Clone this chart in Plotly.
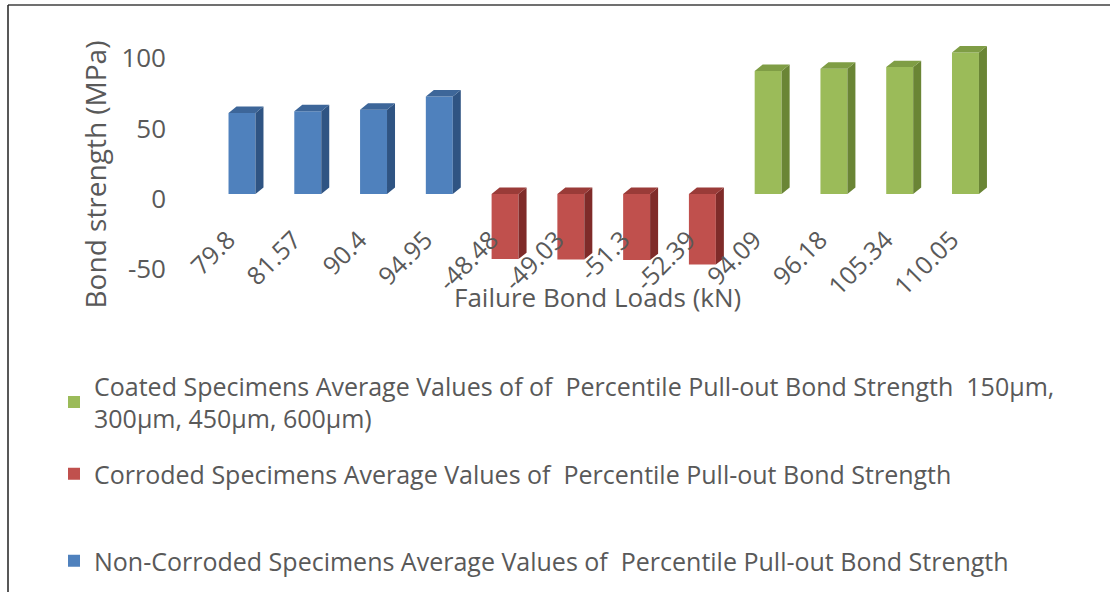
import plotly.graph_objects as go

# Failure bond loads (kN) used as category labels
non_corroded_loads = ["79.8", "81.57", "90.4", "94.95"]
corroded_loads = ["-48.48", "-49.03", "-51.3", "-52.39"]
coated_loads = ["94.09", "96.18", "105.34", "110.05"]

# Bond strength (MPa) per specimen group
non_corroded_strength = [57.4, 58.6, 59.8, 69.2]
corroded_strength = [-46.3, -46.5, -47.0, -50.2]
coated_strength = [87.3, 88.8, 90.0, 100.3]

# Value-axis ticks
y_ticks = [-50, 0, 50, 100]
y_tick_text = ["-50", "0", "50", "100"]

series_names = [
    "Non-Corroded Specimens Average Values of  Percentile Pull-out Bond Strength",
    "Corroded Specimens Average Values of  Percentile Pull-out Bond Strength",
    "Coated Specimens Average Values of of  Percentile Pull-out Bond Strength  150μm,<br>300μm, 450μm, 600μm)",
]

W, H = 1110, 594
PL, PR, PT, PB = 172, 1020, 30, 300
X0, XSTEP = 242.0, 65.77      # pixel centre of first category, pixel step
Y0, YSCALE = 194.5, 1.414     # pixel of zero, pixels per MPa

x_range = [(PL - X0) / XSTEP, (PR - X0) / XSTEP]
y_range = [(Y0 - PB) / YSCALE, (Y0 - PT) / YSCALE]

BAR_W = 0.41
DX = 8 / XSTEP
DY = 6.5 / YSCALE

GREY = "#595959"
FONT = "Open Sans"

styles = [
    dict(front="#4F81BD", side="#2F5483", top="#3D6699"),
    dict(front="#C0504D", side="#7F2B29", top="#9A3B38"),
    dict(front="#9BBB59", side="#6A8535", top="#7F9D45"),
]

labels = non_corroded_loads + corroded_loads + coated_loads
groups = [non_corroded_strength, corroded_strength, coated_strength]


def px_x(px):
    return (px - PL) / (PR - PL)


def px_y(py):
    return (PB - py) / (PB - PT)


fig = go.Figure()

start = 0
legend_ids = ["legend3", "legend2", "legend"]
for vals, st, name, leg in zip(groups, styles, series_names, legend_ids):
    idx = list(range(start, start + len(vals)))
    start += len(vals)

    # right-hand side faces and top faces give the columns their depth
    side_x, side_y, top_x, top_y = [], [], [], []
    for c, v in zip(idx, vals):
        r = c + BAR_W / 2
        l = c - BAR_W / 2
        side_x += [r, r + DX, r + DX, r, r, None]
        side_y += [0, DY, v + DY, v, 0, None]
        lid = max(v, 0)
        top_x += [l, r, r + DX, l + DX, l, None]
        top_y += [lid, lid, lid + DY, lid + DY, lid, None]

    fig.add_trace(go.Scatter(
        x=side_x, y=side_y, mode="lines", fill="toself", fillcolor=st["side"],
        line=dict(width=0), hoverinfo="skip", showlegend=False))
    fig.add_trace(go.Scatter(
        x=top_x, y=top_y, mode="lines", fill="toself", fillcolor=st["top"],
        line=dict(width=0), hoverinfo="skip", showlegend=False))
    fig.add_trace(go.Bar(
        x=idx, y=vals, width=BAR_W, name=name, legend=leg,
        marker=dict(color=st["front"], line=dict(width=0))))

legend_font = dict(family=FONT, size=25, color=GREY)
legend_common = dict(font=legend_font, xanchor="left", yanchor="middle",
                     bgcolor="rgba(0,0,0,0)", itemclick=False)

fig.update_layout(
    width=W, height=H,
    margin=dict(l=PL, r=W - PR, t=PT, b=H - PB),
    paper_bgcolor="white", plot_bgcolor="white",
    barmode="overlay",
    font=dict(family=FONT, color=GREY),
    xaxis=dict(
        range=x_range, tickmode="array",
        tickvals=list(range(len(labels))), ticktext=labels,
        tickangle=-45, tickfont=dict(size=25, color=GREY),
        showgrid=False, zeroline=False, showline=False, ticks="",
        anchor="free", position=px_y(220), ticklabelshift=-14,
    ),
    yaxis=dict(
        range=y_range, tickmode="array", tickvals=y_ticks, ticktext=y_tick_text,
        tickfont=dict(size=26, color=GREY), showgrid=False, zeroline=False,
        showline=False, ticks="", ticklabelshift=5, ticklabelstandoff=5,
    ),
    legend=dict(x=px_x(54), y=px_y(402), **legend_common),
    legend2=dict(x=px_x(54), y=px_y(474), **legend_common),
    legend3=dict(x=px_x(54), y=px_y(561), **legend_common),
    annotations=[
        dict(text="Bond strength (MPa)", xref="paper", yref="paper",
             x=px_x(95), y=px_y(175), textangle=-90, showarrow=False,
             font=dict(size=28, color=GREY), xanchor="center", yanchor="middle"),
        dict(text="Failure Bond Loads (kN)", xref="paper", yref="paper",
             x=px_x(597), y=px_y(298), showarrow=False,
             font=dict(size=26, color=GREY), xanchor="center", yanchor="middle"),
    ],
    shapes=[
        dict(type="line", xref="paper", yref="paper", x0=px_x(8), x1=px_x(W),
             y0=px_y(5), y1=px_y(5), line=dict(color="#404040", width=1.5)),
        dict(type="line", xref="paper", yref="paper", x0=px_x(8), x1=px_x(8),
             y0=px_y(5), y1=px_y(H), line=dict(color="#202020", width=1.5)),
    ],
)

fig.write_html("out.html")
